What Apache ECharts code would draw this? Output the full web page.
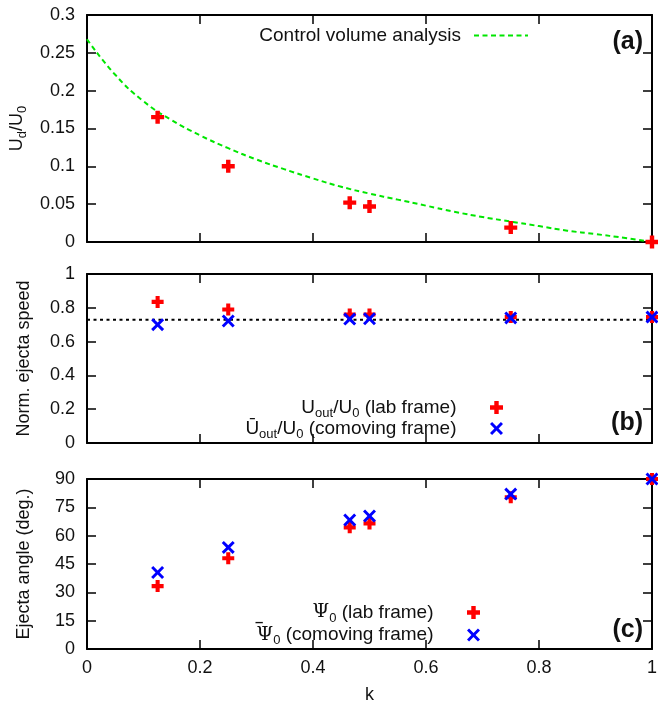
<!DOCTYPE html>
<html>
<head>
<meta charset="utf-8">
<script src="https://cdn.jsdelivr.net/npm/echarts@6/dist/echarts.min.js"></script>
<style>
	html, body { margin: 0; padding: 0; background: #fff; }
	#mychart { width: 658px; height: 702px; }
</style>
</head>
<body>
<div id="mychart"></div>
<script>
// k of each simulation
var kValues = [0.125, 0.25, 0.465, 0.5, 0.75, 1.0];
// panel (a): U_d/U_0
var udValues = [0.165, 0.100, 0.052, 0.047, 0.019, 0.0];
// control volume analysis curve
var cvK = [0, 0.05, 0.1, 0.15, 0.2, 0.25, 0.3, 0.35, 0.4, 0.45, 0.5, 0.55, 0.6, 0.65, 0.7, 0.75, 0.8, 0.85, 0.9, 0.95, 1];
var cvUd = [0.268, 0.221, 0.186, 0.161, 0.141, 0.124, 0.109, 0.096, 0.084, 0.073, 0.064, 0.056, 0.048, 0.040, 0.033, 0.027, 0.021, 0.015, 0.0105, 0.0055, 0];
// panel (b): normalised ejecta speed
var speedLab = [0.835, 0.790, 0.760, 0.760, 0.745, 0.745];
var speedComoving = [0.700, 0.722, 0.733, 0.735, 0.740, 0.745];
var speedRefK = [0, 1];
var speedRef = [0.73, 0.73];
// panel (c): ejecta angle in degrees
var angleLab = [33.3, 48.0, 64.4, 66.5, 80.3, 90];
var angleComoving = [40.5, 53.8, 68.3, 70.4, 82.0, 90];

var FONT = 'Liberation Sans';
var PLUS = 'path://M3.3,0H6.7V3.3H10V6.7H6.7V10H3.3V6.7H0V3.3H3.3Z';
var CROSS = 'path://M0,1.6L1.6,0L5,3.4L8.4,0L10,1.6L6.6,5L10,8.4L8.4,10L5,6.6L1.6,10L0,8.4L3.4,5Z';

var figure = {
	initial : function initial() {
		var chart = echarts.init(document.getElementById('mychart'));
		chart.setOption(this.buildOption());
	},

	pair : function pair(xs, ys) {
		var out = [];
		for (var i = 0; i < xs.length; i++) {
			out.push([xs[i], ys[i]]);
		}
		return out;
	},

	rich : function rich(size) {
		return {
			n : { fontFamily : FONT, fontSize : size, color : '#111', lineHeight : 24, verticalAlign : 'middle' },
			p : { fontFamily : 'DejaVu Serif', fontSize : size, color : '#111', lineHeight : 24, verticalAlign : 'middle' },
			// zero-width bar drawn over the next glyph
			ov : { fontFamily : FONT, fontSize : 16, fontWeight : 'bold', color : '#111', width : 0, align : 'left', padding : [0, 0, 0, 6], lineHeight : 17, verticalAlign : 'top' },
			s : { fontFamily : FONT, fontSize : 13, color : '#111', lineHeight : 13, verticalAlign : 'bottom' }
		};
	},

	xAxisPair : function xAxisPair(grid, labels) {
		var base = {
			type : 'value', gridIndex : grid, min : 0, max : 1, interval : 0.2,
			axisLine : { onZero : false, lineStyle : { color : '#000', width : 2 } },
			axisTick : { inside : true, length : 9, lineStyle : { color : '#000', width : 1.5 } },
			splitLine : { show : false }
		};
		var bottom = echarts.util.merge({
			position : 'bottom',
			axisLabel : { show : labels, margin : 10, color : '#111', fontFamily : FONT, fontSize : 18 }
		}, base);
		if (labels) {
			bottom.name = 'k';
			bottom.nameLocation = 'middle';
			bottom.nameGap = 37;
			bottom.nameTextStyle = { color : '#111', fontFamily : FONT, fontSize : 18 };
		}
		var top = echarts.util.merge({ position : 'top', axisLabel : { show : false } }, base);
		return [bottom, top];
	},

	yAxisPair : function yAxisPair(grid, max, step, name, gap) {
		var base = {
			type : 'value', gridIndex : grid, min : 0, max : max, interval : step,
			axisLine : { onZero : false, lineStyle : { color : '#000', width : 2 } },
			axisTick : { inside : true, length : 9, lineStyle : { color : '#000', width : 1.5 } },
			splitLine : { show : false }
		};
		var left = echarts.util.merge({
			position : 'left',
			name : name,
			nameLocation : 'middle',
			nameGap : gap,
			nameTextStyle : { color : '#111', fontFamily : FONT, fontSize : 18, rich : this.rich(18) },
			axisLabel : { margin : 12, color : '#111', fontFamily : FONT, fontSize : 18 }
		}, base);
		var right = echarts.util.merge({ position : 'right', axisLabel : { show : false } }, base);
		return [left, right];
	},

	legendItem : function legendItem(name, right, top, width) {
		return {
			data : [name],
			orient : 'vertical',
			align : 'right',
			right : right,
			top : top,
			padding : 0,
			itemWidth : width,
			itemHeight : 13,
			selectedMode : false,
			textStyle : { fontFamily : FONT, fontSize : 19, color : '#111', rich : this.rich(19) }
		};
	},

	scatter : function scatter(name, xi, yi, data, symbol, color, size) {
		return {
			name : name, type : 'scatter', xAxisIndex : xi, yAxisIndex : yi,
			data : data, symbol : symbol, symbolSize : size, clip : false,
			itemStyle : { color : color, opacity : 1 },
			z : 5
		};
	},

	buildOption : function buildOption() {
		var nameLab = '{n|U}{s|out}{n|/U}{s|0}{n| (lab frame)}';
		var nameCom = '{n|\u016A}{s|out}{n|/U}{s|0}{n| (comoving frame)}';
		var namePsi = '{p|\u03A8}{s|0}{n| (lab frame)}';
		var namePsiBar = '{ov|\u203E}{p|\u03A8}{s|0}{n| (comoving frame)}';
		var nameCv = '{n|Control volume analysis}';

		var xAxes = [].concat(this.xAxisPair(0, false), this.xAxisPair(1, false), this.xAxisPair(2, true));
		var yAxes = [].concat(
			this.yAxisPair(0, 0.3, 0.05, '{n|U}{s|d}{n|/U}{s|0}', 45),
			this.yAxisPair(1, 1, 0.2, 'Norm. ejecta speed', 54),
			this.yAxisPair(2, 90, 15, 'Ejecta angle (deg.)', 54)
		);

		var cvLegend = this.legendItem(nameCv, 129, 26, 54);
		cvLegend.textStyle.rich.n.padding = [0, 8, 0, 0];
		cvLegend.itemStyle = { opacity : 0 };

		var labelStyle = { fontFamily : FONT, fontWeight : 'bold', fontSize : 25, color : '#111' };

		return {
			backgroundColor : '#fff',
			animation : false,
			textStyle : { fontFamily : FONT },
			grid : [
				{ left : 87, top : 15, width : 565, height : 227, outerBoundsMode : 'none', containLabel : false },
				{ left : 87, top : 274, width : 565, height : 169, outerBoundsMode : 'none', containLabel : false },
				{ left : 87, top : 479, width : 565, height : 170, outerBoundsMode : 'none', containLabel : false }
			],
			xAxis : xAxes,
			yAxis : yAxes,
			title : [
				{ text : '(a)', right : 15, top : 30, padding : 0, textStyle : labelStyle },
				{ text : '(b)', right : 15, top : 411, padding : 0, textStyle : labelStyle },
				{ text : '(c)', right : 15, top : 618, padding : 0, textStyle : labelStyle }
			],
			legend : [
				cvLegend,
				this.legendItem(nameLab, 155, 398, 70),
				this.legendItem(nameCom, 155, 419, 70),
				this.legendItem(namePsi, 178, 603, 70),
				this.legendItem(namePsiBar, 178, 623, 70)
			],
			series : [
				{
					name : nameCv, type : 'line', xAxisIndex : 0, yAxisIndex : 0,
					data : this.pair(cvK, cvUd), smooth : true, symbol : 'none', clip : false,
					lineStyle : { color : '#00e600', width : 2, type : [5, 3.5] },
					itemStyle : { color : '#00e600' }
				},
				this.scatter('udLab', 0, 0, this.pair(kValues, udValues), PLUS, '#ff0000', 13),
				{
					name : 'speedRef', type : 'line', xAxisIndex : 2, yAxisIndex : 2,
					data : this.pair(speedRefK, speedRef), symbol : 'none',
					lineStyle : { color : '#000', width : 2, type : [3, 3.5] }
				},
				this.scatter(nameLab, 2, 2, this.pair(kValues, speedLab), PLUS, '#ff0000', 12),
				this.scatter(nameCom, 2, 2, this.pair(kValues, speedComoving), CROSS, '#0000ff', 13),
				this.scatter(namePsi, 4, 4, this.pair(kValues, angleLab), PLUS, '#ff0000', 12),
				this.scatter(namePsiBar, 4, 4, this.pair(kValues, angleComoving), CROSS, '#0000ff', 13)
			]
		};
	}
};

figure.initial();
</script>
</body>
</html>
